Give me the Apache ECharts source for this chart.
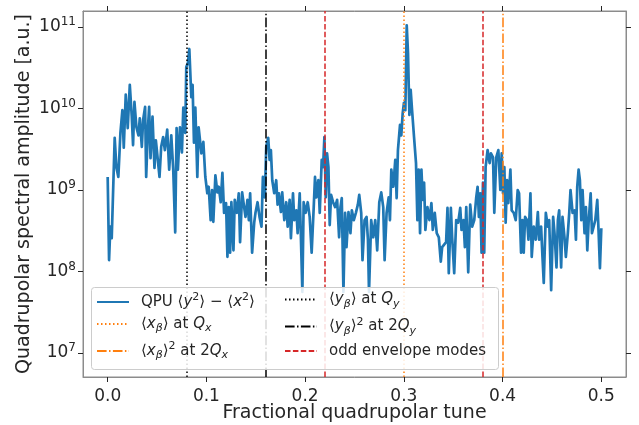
<!DOCTYPE html>
<html>
<head>
<meta charset="utf-8">
<script src="https://cdn.jsdelivr.net/npm/echarts@6/dist/echarts.min.js"></script>
<style>
  html, body { margin: 0; padding: 0; background: #fff; }
  #chart { width: 639px; height: 425px; }
</style>
</head>
<body>
<div id="chart"></div>
<script>
// fractional quadrupolar tune of each sample
const tune = [
  0.0000, 0.0014, 0.0027, 0.0041, 0.0071, 0.0088, 0.0108, 0.0129, 0.0149, 0.0163,
  0.0183, 0.0203, 0.0224, 0.0244, 0.0257, 0.0271, 0.0291, 0.0312, 0.0325, 0.0346,
  0.0359, 0.0379, 0.0390, 0.0407, 0.0420, 0.0434, 0.0454, 0.0474, 0.0488, 0.0508,
  0.0525, 0.0542, 0.0562, 0.0579, 0.0603, 0.0623, 0.0644, 0.0664, 0.0684, 0.0698,
  0.0711, 0.0732, 0.0752, 0.0766, 0.0786, 0.0796, 0.0813, 0.0827, 0.0837, 0.0847,
  0.0860, 0.0874, 0.0888, 0.0908, 0.0921, 0.0949, 0.0969, 0.0989, 0.1009, 0.1023,
  0.1043, 0.1057, 0.1070, 0.1091, 0.1111, 0.1125, 0.1145, 0.1162, 0.1179, 0.1199,
  0.1213, 0.1226, 0.1240, 0.1253, 0.1274, 0.1287, 0.1308, 0.1328, 0.1341, 0.1362,
  0.1382, 0.1396, 0.1416, 0.1430, 0.1443, 0.1463, 0.1484, 0.1497, 0.1518, 0.1538,
  0.1558, 0.1572, 0.1592, 0.1606, 0.1626, 0.1640, 0.1653, 0.1667, 0.1687, 0.1707,
  0.1721, 0.1734, 0.1755, 0.1768, 0.1789, 0.1809, 0.1823, 0.1843, 0.1856, 0.1877,
  0.1890, 0.1911, 0.1924, 0.1945, 0.1956, 0.1972, 0.1985, 0.2005, 0.2026, 0.2046,
  0.2066, 0.2087, 0.2100, 0.2114, 0.2134, 0.2148, 0.2168, 0.2182, 0.2195, 0.2209,
  0.2222, 0.2236, 0.2249, 0.2263, 0.2283, 0.2304, 0.2324, 0.2344, 0.2358, 0.2371,
  0.2388, 0.2405, 0.2419, 0.2439, 0.2459, 0.2473, 0.2493, 0.2514, 0.2534, 0.2548,
  0.2568, 0.2581, 0.2602, 0.2622, 0.2636, 0.2647, 0.2669, 0.2690, 0.2710, 0.2730,
  0.2751, 0.2771, 0.2791, 0.2805, 0.2825, 0.2846, 0.2859, 0.2873, 0.2893, 0.2913,
  0.2927, 0.2940, 0.2961, 0.2974, 0.2988, 0.3001, 0.3015, 0.3029, 0.3042, 0.3056,
  0.3069, 0.3083, 0.3103, 0.3123, 0.3137, 0.3150, 0.3164, 0.3178, 0.3191, 0.3205,
  0.3218, 0.3239, 0.3259, 0.3279, 0.3293, 0.3313, 0.3333, 0.3354, 0.3374, 0.3388,
  0.3408, 0.3428, 0.3442, 0.3455, 0.3476, 0.3489, 0.3510, 0.3530, 0.3550, 0.3571,
  0.3584, 0.3604, 0.3618, 0.3632, 0.3652, 0.3672, 0.3692, 0.3713, 0.3733, 0.3747,
  0.3760, 0.3774, 0.3787, 0.3801, 0.3814, 0.3828, 0.3848, 0.3869, 0.3882, 0.3903,
  0.3916, 0.3936, 0.3957, 0.3977, 0.3991, 0.4004, 0.4018, 0.4031, 0.4045, 0.4058,
  0.4079, 0.4092, 0.4113, 0.4133, 0.4153, 0.4167, 0.4187, 0.4201, 0.4214, 0.4228,
  0.4248, 0.4262, 0.4282, 0.4295, 0.4316, 0.4336, 0.4357, 0.4370, 0.4390, 0.4404,
  0.4417, 0.4438, 0.4458, 0.4472, 0.4492, 0.4512, 0.4526, 0.4546, 0.4560, 0.4573,
  0.4593, 0.4607, 0.4627, 0.4641, 0.4661, 0.4675, 0.4688, 0.4709, 0.4729, 0.4743,
  0.4756, 0.4770, 0.4783, 0.4797, 0.4810, 0.4830, 0.4844, 0.4858, 0.4871, 0.4892,
  0.4905, 0.4925, 0.4939, 0.4959, 0.4973, 0.4986, 0.5000
];

// log10 of the spectral amplitude at each tune above
const ampExp = [
  9.16, 8.14, 8.55, 8.41, 9.64, 9.28, 9.16, 9.70, 9.98, 9.52,
  10.17, 9.76, 10.29, 9.90, 9.55, 10.08, 9.77, 9.67, 9.88, 9.53,
  9.86, 10.02, 9.16, 9.74, 10.02, 9.39, 9.90, 9.27, 9.61, 9.61,
  9.16, 9.53, 9.65, 9.49, 9.74, 9.25, 9.67, 9.25, 8.48, 9.76,
  9.25, 9.77, 9.46, 10.01, 9.70, 10.51, 10.56, 10.73, 10.72, 10.14,
  10.29, 9.58, 10.01, 9.16, 9.77, 9.45, 9.59, 9.16, 8.96, 9.04,
  8.63, 9.00, 8.61, 9.18, 8.97, 9.04, 8.85, 9.21, 8.72, 8.84,
  8.18, 8.79, 8.23, 8.85, 8.26, 8.88, 8.72, 8.96, 8.36, 8.97,
  8.79, 8.67, 8.88, 8.63, 8.96, 8.23, 8.60, 8.72, 8.85, 8.67,
  8.55, 9.16, 8.91, 9.53, 9.64, 9.37, 9.49, 9.12, 8.96, 9.12,
  8.82, 8.96, 8.73, 8.97, 8.63, 8.85, 8.55, 8.88, 8.41, 8.96,
  8.63, 8.75, 8.47, 8.96, 8.47, 7.75, 8.85, 8.72, 8.85, 8.67,
  8.23, 8.79, 9.16, 8.91, 9.12, 8.72, 9.37, 9.28, 9.65, 8.91,
  9.45, 9.28, 8.57, 8.94, 8.85, 8.79, 8.88, 8.42, 8.79, 8.90,
  7.75, 8.72, 8.30, 8.73, 8.47, 8.75, 8.63, 8.72, 8.82, 8.94,
  8.72, 8.14, 8.63, 8.67, 8.39, 7.75, 8.63, 8.42, 8.63, 8.26,
  8.85, 8.97, 8.79, 8.14, 8.72, 8.91, 8.63, 9.25, 9.04, 9.37,
  8.90, 9.49, 9.80, 9.67, 9.94, 10.07, 9.98, 11.02, 10.68, 9.92,
  10.23, 9.98, 9.65, 9.33, 8.63, 9.25, 8.47, 9.25, 8.88, 9.09,
  8.51, 8.79, 8.63, 8.84, 8.51, 8.72, 8.47, 8.42, 8.12, 8.30,
  8.30, 8.36, 8.78, 7.98, 8.78, 8.42, 7.98, 8.63, 8.60, 8.78,
  8.51, 8.63, 8.30, 8.79, 7.99, 8.82, 8.55, 8.63, 8.91, 9.04,
  8.67, 8.96, 8.23, 9.09, 8.23, 9.28, 9.49, 9.33, 9.45, 9.40,
  8.72, 9.40, 9.49, 9.00, 9.45, 8.96, 9.28, 8.60, 9.12, 8.84,
  9.25, 8.75, 8.72, 8.63, 9.00, 8.96, 8.23, 8.63, 8.23, 8.67,
  8.63, 8.39, 8.96, 8.18, 8.55, 8.39, 8.73, 8.39, 8.55, 8.18,
  7.86, 8.72, 8.55, 8.63, 7.77, 8.67, 8.47, 8.05, 8.63, 8.75,
  8.05, 8.67, 8.42, 8.18, 8.47, 8.72, 9.00, 8.72, 8.75, 8.39,
  9.04, 9.25, 9.12, 8.63, 9.00, 8.47, 8.79, 8.26, 8.60, 8.96,
  8.47, 8.47, 8.63, 8.88, 8.47, 8.04, 8.53
];

// reference lines (tune values)
const qyLine = [0.081];
const twoQyLine = [0.162];
const qxLine = [0.3018];
const twoQxLine = [0.398];
const oddModes = [0.2209, 0.3835];

const xTicks = [0, 0.1, 0.2, 0.3, 0.4, 0.5];
const yTicks = [1e7, 1e8, 1e9, 1e10, 1e11];

const FONT = 'DejaVu Sans';
const TEXT = '#262626';
const SPINE = '#8c8c8c';

const spectrum = tune.map((t, i) => [t, Math.pow(10, ampExp[i])]);

const base = { fontFamily: FONT, color: TEXT, fontSize: 15, lineHeight: 20 };
const legendRich = {
  n: base,
  i: { ...base, fontStyle: 'italic' },
  sup: { fontFamily: FONT, color: TEXT, fontSize: 11, lineHeight: 11, verticalAlign: 'top' },
  sub: { fontFamily: FONT, color: TEXT, fontSize: 11, lineHeight: 11, verticalAlign: 'bottom', fontStyle: 'italic' }
};
const legendText = {
  qpu: '{n|QPU \u27e8}{i|y}{sup|2}{n|\u27e9 \u2212 \u27e8}{i|x}{sup|2}{n|\u27e9}',
  xQx: '{n|\u27e8}{i|x}{sub|\u03b2}{n|\u27e9 at }{i|Q}{sub|x}',
  x2Qx: '{n|\u27e8}{i|x}{sub|\u03b2}{n|\u27e9}{sup|2}{n| at 2}{i|Q}{sub|x}',
  yQy: '{n|\u27e8}{i|y}{sub|\u03b2}{n|\u27e9 at }{i|Q}{sub|y}',
  y2Qy: '{n|\u27e8}{i|y}{sub|\u03b2}{n|\u27e9}{sup|2}{n| at 2}{i|Q}{sub|y}',
  odd: '{n|odd envelope modes}'
};

function vline(name, values, color, dash) {
  const style = { color: color, width: 1.5, type: dash };
  return {
    name: name,
    type: 'line',
    data: [],
    symbol: 'none',
    color: color,
    lineStyle: style,
    z: 3,
    markLine: {
      silent: true,
      symbol: ['none', 'none'],
      label: { show: false },
      lineStyle: style,
      data: values.map(v => ({ xAxis: v }))
    }
  };
}

const dotted = [1.5, 2.5];
const dashed = [5.5, 2.4];
const dashdot = [9.6, 2.4, 1.5, 2.4];

const isDecade = v => Math.abs(Math.log10(v) - Math.round(Math.log10(v))) < 1e-6;

const xAxisBase = {
  type: 'value',
  min: -0.025,
  max: 0.525,
  splitLine: { show: false },
  axisLine: { show: true, onZero: false, lineStyle: { color: SPINE, width: 1 } },
  axisTick: { show: true, inside: false, length: 5, customValues: xTicks, lineStyle: { color: TEXT, width: 1 } }
};
const yAxisBase = {
  type: 'log',
  logBase: 10,
  min: 5.08e6,
  max: 1.57e11,
  splitLine: { show: false },
  minorTick: { show: false },
  axisLine: { show: true, onZero: false, lineStyle: { color: SPINE, width: 1 } },
  axisTick: { show: true, inside: false, length: 5, customValues: yTicks, lineStyle: { color: TEXT, width: 1 } }
};

function legendCol(names, left) {
  return {
    data: names,
    orient: 'vertical',
    left: left,
    top: 292,
    padding: 0,
    itemWidth: 32,
    itemHeight: 14,
    itemGap: 7,
    z: 20,
    itemStyle: { opacity: 0, borderWidth: 0 },
    formatter: name => legendText[name],
    textStyle: { fontFamily: FONT, fontSize: 15, color: TEXT, rich: legendRich, padding: [0, 0, 0, 7] }
  };
}

const chart = echarts.init(document.getElementById('chart'));

chart.setOption({
  animation: false,
  backgroundColor: '#fff',
  grid: {
    left: 83, right: 13, top: 11, bottom: 48,
    outerBoundsMode: 'none',
    show: true, borderColor: SPINE, borderWidth: 1
  },
  xAxis: [
    {
      ...xAxisBase,
      position: 'bottom',
      name: 'Fractional quadrupolar tune',
      nameLocation: 'middle',
      nameGap: 27,
      nameMoveOverlap: false,
      nameTextStyle: { fontFamily: FONT, fontSize: 19, color: TEXT },
      axisLabel: {
        customValues: xTicks,
        margin: 11,
        fontFamily: FONT,
        fontSize: 17,
        color: TEXT,
        formatter: v => v.toFixed(1)
      }
    },
    { ...xAxisBase, position: 'top', axisLabel: { show: false } }
  ],
  yAxis: [
    {
      ...yAxisBase,
      position: 'left',
      name: 'Quadrupolar spectral amplitude [a.u.]',
      nameLocation: 'middle',
      nameGap: 49,
      nameMoveOverlap: false,
      nameTextStyle: { fontFamily: FONT, fontSize: 19, color: TEXT },
      axisLabel: {
        customValues: yTicks,
        margin: 7,
        formatter: v => isDecade(v) ? '{b|10}{s|' + Math.round(Math.log10(v)) + '}' : '',
        rich: {
          b: { fontFamily: FONT, fontSize: 17, color: TEXT, lineHeight: 22 },
          s: { fontFamily: FONT, fontSize: 12, color: TEXT, lineHeight: 13, verticalAlign: 'top' }
        }
      }
    },
    { ...yAxisBase, position: 'right', axisLabel: { show: false } }
  ],
  legend: [
    legendCol(['qpu', 'xQx', 'x2Qx'], 96),
    legendCol(['yQy', 'y2Qy', 'odd'], 284)
  ],
  graphic: [
    {
      type: 'rect',
      left: 91,
      top: 287,
      z: 10,
      shape: { width: 407, height: 82, r: 3 },
      style: { fill: 'rgba(255,255,255,0.85)', stroke: '#cccccc', lineWidth: 1 }
    }
  ],
  series: [
    {
      name: 'qpu',
      type: 'line',
      data: spectrum,
      symbol: 'none',
      color: '#1f77b4',
      lineStyle: { color: '#1f77b4', width: 2.7, join: 'round' },
      z: 2
    },
    vline('xQx', qxLine, '#ff7f0e', dotted),
    vline('x2Qx', twoQxLine, '#ff7f0e', dashdot),
    vline('yQy', qyLine, '#000000', dotted),
    vline('y2Qy', twoQyLine, '#000000', dashdot),
    vline('odd', oddModes, '#d62728', dashed)
  ]
});
</script>
</body>
</html>
